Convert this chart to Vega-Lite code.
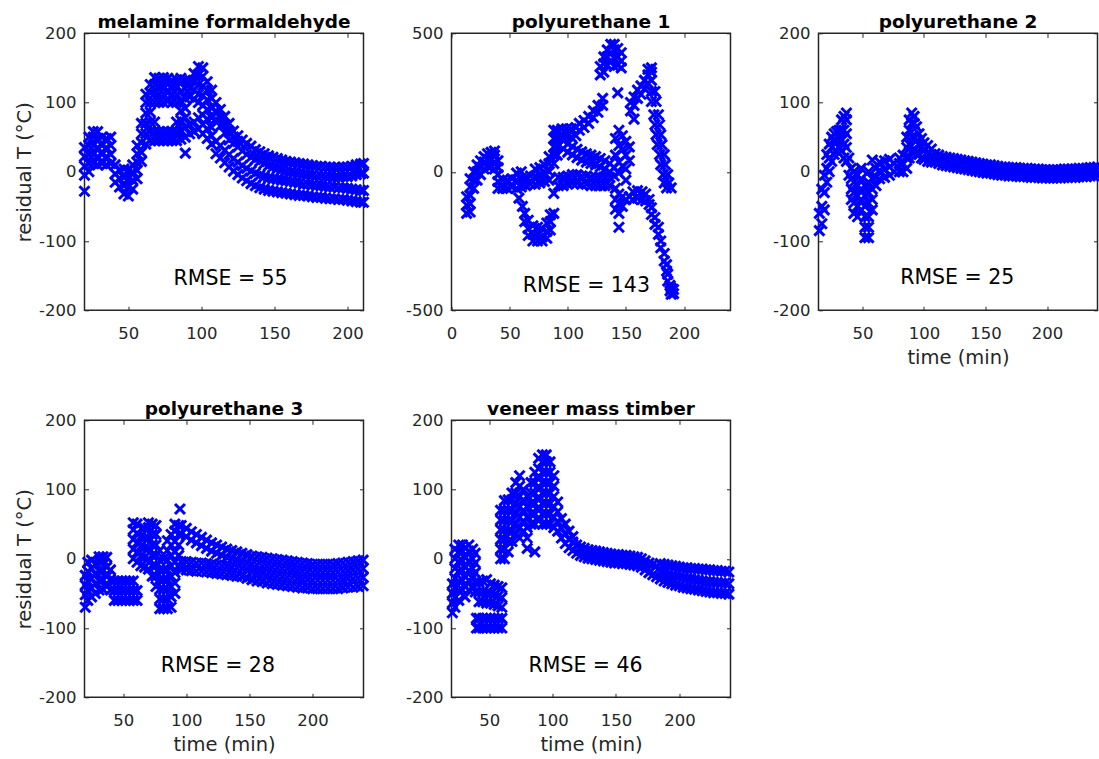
{
"$schema": "https://vega.github.io/schema/vega-lite/v6.json",
"background": "white",
"padding": {"left": 12.5, "top": 11.3, "right": 0, "bottom": 0},
"config": {
 "font": "DejaVu Sans",
 "view": {"stroke": "#262626", "strokeWidth": 1.5},
 "axis": {"domain": false, "grid": false, "tickColor": "#262626", "tickSize": -4, "tickWidth": 1, "labelColor": "#262626", "labelFontSize": 16.5, "labelFont": "DejaVu Sans", "labelFlush": false, "labelOverlap": false, "labelExpr": "datum.value < 0 ? '-' + (-datum.value) : '' + datum.value", "titleFont": "DejaVu Sans", "titleFontWeight": "normal", "titleFontSize": 19.5, "titleColor": "#262626"},
 "axisX": {"labelPadding": 19.3, "titlePadding": 6.7},
 "axisY": {"labelPadding": 12.5, "titlePadding": 4.5},
 "title": {"font": "DejaVu Sans", "fontSize": 18.5, "fontWeight": "bold", "color": "#000000", "frame": "group", "anchor": "middle", "baseline": "alphabetic", "offset": -6}
},
"datasets": {
"lbl": [
 {"p":"a","t":120,"r":-155,"txt":"RMSE = 55"},
 {"p":"b","t":116,"r":-413,"txt":"RMSE = 143"},
 {"p":"c","t":127,"r":-154,"txt":"RMSE = 25"},
 {"p":"d","t":125,"r":-155,"txt":"RMSE = 28"},
 {"p":"e","t":126,"r":-155,"txt":"RMSE = 46"}
],
"pts": [
{"p":"a","t":20,"r":-28},{"p":"a","t":20,"r":-5},{"p":"a","t":20,"r":8},{"p":"a","t":20,"r":22},{"p":"a","t":20,"r":35},
{"p":"a","t":23,"r":0},{"p":"a","t":23,"r":12},{"p":"a","t":23,"r":25},{"p":"a","t":23,"r":38},{"p":"a","t":23,"r":50},
{"p":"a","t":26,"r":12},{"p":"a","t":26,"r":25},{"p":"a","t":26,"r":38},{"p":"a","t":26,"r":50},{"p":"a","t":26,"r":58},
{"p":"a","t":29,"r":10},{"p":"a","t":29,"r":22},{"p":"a","t":29,"r":35},{"p":"a","t":29,"r":48},{"p":"a","t":29,"r":58},
{"p":"a","t":32,"r":12},{"p":"a","t":32,"r":25},{"p":"a","t":32,"r":38},{"p":"a","t":32,"r":50},
{"p":"a","t":35,"r":10},{"p":"a","t":35,"r":22},{"p":"a","t":35,"r":35},{"p":"a","t":35,"r":48},
{"p":"a","t":38,"r":12},{"p":"a","t":38,"r":25},{"p":"a","t":38,"r":38},{"p":"a","t":38,"r":50},
{"p":"a","t":41,"r":-15},{"p":"a","t":41,"r":-3},{"p":"a","t":41,"r":10},
{"p":"a","t":44,"r":-22},{"p":"a","t":44,"r":-10},{"p":"a","t":44,"r":2},
{"p":"a","t":47,"r":-32},{"p":"a","t":47,"r":-20},{"p":"a","t":47,"r":-8},{"p":"a","t":47,"r":4},
{"p":"a","t":50,"r":-35},{"p":"a","t":50,"r":-22},{"p":"a","t":50,"r":-10},{"p":"a","t":50,"r":2},
{"p":"a","t":53,"r":-25},{"p":"a","t":53,"r":-12},{"p":"a","t":53,"r":0},{"p":"a","t":53,"r":10},
{"p":"a","t":56,"r":-10},{"p":"a","t":56,"r":2},{"p":"a","t":56,"r":14},{"p":"a","t":56,"r":26},{"p":"a","t":56,"r":38},
{"p":"a","t":59,"r":15},{"p":"a","t":59,"r":28},{"p":"a","t":59,"r":42},{"p":"a","t":59,"r":55},{"p":"a","t":59,"r":70},
{"p":"a","t":62,"r":40},{"p":"a","t":62,"r":55},{"p":"a","t":62,"r":70},{"p":"a","t":62,"r":85},{"p":"a","t":62,"r":100},{"p":"a","t":62,"r":112},
{"p":"a","t":65,"r":45},{"p":"a","t":65,"r":58},{"p":"a","t":65,"r":72},{"p":"a","t":65,"r":86},{"p":"a","t":65,"r":100},{"p":"a","t":65,"r":114},{"p":"a","t":65,"r":126},
{"p":"a","t":68,"r":45},{"p":"a","t":68,"r":58},{"p":"a","t":68,"r":72},{"p":"a","t":68,"r":100},{"p":"a","t":68,"r":113},{"p":"a","t":68,"r":126},{"p":"a","t":68,"r":136},
{"p":"a","t":71,"r":45},{"p":"a","t":71,"r":58},{"p":"a","t":71,"r":100},{"p":"a","t":71,"r":112},{"p":"a","t":71,"r":124},{"p":"a","t":71,"r":135},
{"p":"a","t":74,"r":45},{"p":"a","t":74,"r":58},{"p":"a","t":74,"r":100},{"p":"a","t":74,"r":112},{"p":"a","t":74,"r":124},{"p":"a","t":74,"r":136},
{"p":"a","t":77,"r":45},{"p":"a","t":77,"r":58},{"p":"a","t":77,"r":102},{"p":"a","t":77,"r":114},{"p":"a","t":77,"r":126},{"p":"a","t":77,"r":135},
{"p":"a","t":80,"r":45},{"p":"a","t":80,"r":58},{"p":"a","t":80,"r":100},{"p":"a","t":80,"r":112},{"p":"a","t":80,"r":124},{"p":"a","t":80,"r":132},
{"p":"a","t":83,"r":45},{"p":"a","t":83,"r":58},{"p":"a","t":83,"r":72},{"p":"a","t":83,"r":100},{"p":"a","t":83,"r":112},{"p":"a","t":83,"r":124},{"p":"a","t":83,"r":133},
{"p":"a","t":86,"r":47},{"p":"a","t":86,"r":60},{"p":"a","t":86,"r":74},{"p":"a","t":86,"r":88},{"p":"a","t":86,"r":102},{"p":"a","t":86,"r":116},{"p":"a","t":86,"r":128},{"p":"a","t":86,"r":135},
{"p":"a","t":89,"r":27},{"p":"a","t":89,"r":50},{"p":"a","t":89,"r":64},{"p":"a","t":89,"r":78},{"p":"a","t":89,"r":92},{"p":"a","t":89,"r":106},{"p":"a","t":89,"r":120},{"p":"a","t":89,"r":132},
{"p":"a","t":92,"r":55},{"p":"a","t":92,"r":68},{"p":"a","t":92,"r":108},{"p":"a","t":92,"r":120},{"p":"a","t":92,"r":132},
{"p":"a","t":95,"r":58},{"p":"a","t":95,"r":72},{"p":"a","t":95,"r":105},{"p":"a","t":95,"r":118},{"p":"a","t":95,"r":130},{"p":"a","t":95,"r":142},
{"p":"a","t":98,"r":62},{"p":"a","t":98,"r":78},{"p":"a","t":98,"r":100},{"p":"a","t":98,"r":112},{"p":"a","t":98,"r":126},{"p":"a","t":98,"r":140},{"p":"a","t":98,"r":152},
{"p":"a","t":101,"r":55},{"p":"a","t":101,"r":68},{"p":"a","t":101,"r":82},{"p":"a","t":101,"r":96},{"p":"a","t":101,"r":110},{"p":"a","t":101,"r":124},{"p":"a","t":101,"r":138},{"p":"a","t":101,"r":150},
{"p":"a","t":104,"r":48},{"p":"a","t":104,"r":62},{"p":"a","t":104,"r":76},{"p":"a","t":104,"r":90},{"p":"a","t":104,"r":104},{"p":"a","t":104,"r":118},{"p":"a","t":104,"r":130},
{"p":"a","t":107,"r":40},{"p":"a","t":107,"r":52},{"p":"a","t":107,"r":64},{"p":"a","t":107,"r":78},{"p":"a","t":107,"r":92},{"p":"a","t":107,"r":106},{"p":"a","t":107,"r":118},
{"p":"a","t":110,"r":76},{"p":"a","t":110,"r":88},{"p":"a","t":110,"r":100},{"p":"a","t":110,"r":26},{"p":"a","t":110,"r":44},
{"p":"a","t":113,"r":66},{"p":"a","t":113,"r":78},{"p":"a","t":113,"r":90},{"p":"a","t":113,"r":20},{"p":"a","t":113,"r":38},
{"p":"a","t":116,"r":56},{"p":"a","t":116,"r":68},{"p":"a","t":116,"r":80},{"p":"a","t":116,"r":13},{"p":"a","t":116,"r":31},
{"p":"a","t":119,"r":46},{"p":"a","t":119,"r":58},{"p":"a","t":119,"r":70},{"p":"a","t":119,"r":7},{"p":"a","t":119,"r":25},
{"p":"a","t":122,"r":41},{"p":"a","t":122,"r":50},{"p":"a","t":122,"r":59},{"p":"a","t":122,"r":1},{"p":"a","t":122,"r":19},
{"p":"a","t":125,"r":36},{"p":"a","t":125,"r":44},{"p":"a","t":125,"r":52},{"p":"a","t":125,"r":-4},{"p":"a","t":125,"r":14},
{"p":"a","t":128,"r":30},{"p":"a","t":128,"r":46},{"p":"a","t":128,"r":-9},{"p":"a","t":128,"r":9},
{"p":"a","t":131,"r":25},{"p":"a","t":131,"r":41},{"p":"a","t":131,"r":-13},{"p":"a","t":131,"r":5},
{"p":"a","t":134,"r":21},{"p":"a","t":134,"r":37},{"p":"a","t":134,"r":-17},{"p":"a","t":134,"r":1},
{"p":"a","t":137,"r":18},{"p":"a","t":137,"r":32},{"p":"a","t":137,"r":-20},{"p":"a","t":137,"r":-2},
{"p":"a","t":140,"r":15},{"p":"a","t":140,"r":29},{"p":"a","t":140,"r":-23},{"p":"a","t":140,"r":-5},
{"p":"a","t":143,"r":12},{"p":"a","t":143,"r":26},{"p":"a","t":143,"r":-25},{"p":"a","t":143,"r":-7},
{"p":"a","t":146,"r":9},{"p":"a","t":146,"r":23},{"p":"a","t":146,"r":-27},{"p":"a","t":146,"r":-9},
{"p":"a","t":149,"r":7},{"p":"a","t":149,"r":21},{"p":"a","t":149,"r":-28},{"p":"a","t":149,"r":-10},
{"p":"a","t":152,"r":5},{"p":"a","t":152,"r":19},{"p":"a","t":152,"r":-29},{"p":"a","t":152,"r":-11},
{"p":"a","t":155,"r":3},{"p":"a","t":155,"r":17},{"p":"a","t":155,"r":-30},{"p":"a","t":155,"r":-12},
{"p":"a","t":158,"r":1},{"p":"a","t":158,"r":15},{"p":"a","t":158,"r":-31},{"p":"a","t":158,"r":-13},
{"p":"a","t":161,"r":0},{"p":"a","t":161,"r":14},{"p":"a","t":161,"r":-32},{"p":"a","t":161,"r":-14},
{"p":"a","t":164,"r":-1},{"p":"a","t":164,"r":13},{"p":"a","t":164,"r":-33},{"p":"a","t":164,"r":-15},
{"p":"a","t":167,"r":-2},{"p":"a","t":167,"r":12},{"p":"a","t":167,"r":-34},{"p":"a","t":167,"r":-16},
{"p":"a","t":170,"r":-3},{"p":"a","t":170,"r":11},{"p":"a","t":170,"r":-34},{"p":"a","t":170,"r":-18},
{"p":"a","t":173,"r":-4},{"p":"a","t":173,"r":10},{"p":"a","t":173,"r":-35},{"p":"a","t":173,"r":-18},
{"p":"a","t":176,"r":-5},{"p":"a","t":176,"r":9},{"p":"a","t":176,"r":-36},{"p":"a","t":176,"r":-19},
{"p":"a","t":179,"r":-6},{"p":"a","t":179,"r":8},{"p":"a","t":179,"r":-37},{"p":"a","t":179,"r":-20},
{"p":"a","t":182,"r":-6},{"p":"a","t":182,"r":8},{"p":"a","t":182,"r":-37},{"p":"a","t":182,"r":-20},
{"p":"a","t":185,"r":-7},{"p":"a","t":185,"r":7},{"p":"a","t":185,"r":-38},{"p":"a","t":185,"r":-21},
{"p":"a","t":188,"r":-7},{"p":"a","t":188,"r":7},{"p":"a","t":188,"r":-39},{"p":"a","t":188,"r":-22},
{"p":"a","t":191,"r":-8},{"p":"a","t":191,"r":6},{"p":"a","t":191,"r":-39},{"p":"a","t":191,"r":-22},
{"p":"a","t":194,"r":-8},{"p":"a","t":194,"r":6},{"p":"a","t":194,"r":-40},{"p":"a","t":194,"r":-23},
{"p":"a","t":197,"r":-7},{"p":"a","t":197,"r":7},{"p":"a","t":197,"r":-40},{"p":"a","t":197,"r":-23},
{"p":"a","t":200,"r":-7},{"p":"a","t":200,"r":7},{"p":"a","t":200,"r":-41},{"p":"a","t":200,"r":-24},
{"p":"a","t":203,"r":-6},{"p":"a","t":203,"r":8},{"p":"a","t":203,"r":-42},{"p":"a","t":203,"r":-25},
{"p":"a","t":206,"r":-4},{"p":"a","t":206,"r":10},{"p":"a","t":206,"r":-43},{"p":"a","t":206,"r":-26},
{"p":"a","t":209,"r":-3},{"p":"a","t":209,"r":11},{"p":"a","t":209,"r":-44},{"p":"a","t":209,"r":-27},
{"p":"a","t":211,"r":-2},{"p":"a","t":211,"r":12},{"p":"a","t":211,"r":-44},{"p":"a","t":211,"r":-27},

{"p":"b","t":13,"r":-150},{"p":"b","t":13,"r":-120},{"p":"b","t":13,"r":-90},
{"p":"b","t":16,"r":-145},{"p":"b","t":16,"r":-115},{"p":"b","t":16,"r":-85},{"p":"b","t":16,"r":-55},{"p":"b","t":16,"r":-25},
{"p":"b","t":19,"r":-60},{"p":"b","t":19,"r":-30},{"p":"b","t":19,"r":0},
{"p":"b","t":22,"r":-30},{"p":"b","t":22,"r":0},{"p":"b","t":22,"r":25},
{"p":"b","t":25,"r":-10},{"p":"b","t":25,"r":15},{"p":"b","t":25,"r":40},
{"p":"b","t":28,"r":10},{"p":"b","t":28,"r":35},{"p":"b","t":28,"r":55},
{"p":"b","t":31,"r":20},{"p":"b","t":31,"r":45},{"p":"b","t":31,"r":65},
{"p":"b","t":34,"r":20},{"p":"b","t":34,"r":45},{"p":"b","t":34,"r":70},
{"p":"b","t":37,"r":10},{"p":"b","t":37,"r":35},{"p":"b","t":37,"r":60},{"p":"b","t":37,"r":75},
{"p":"b","t":40,"r":-60},{"p":"b","t":40,"r":-35},{"p":"b","t":40,"r":-10},{"p":"b","t":40,"r":15},{"p":"b","t":40,"r":40},
{"p":"b","t":44,"r":-60},{"p":"b","t":44,"r":-30},
{"p":"b","t":48,"r":-60},{"p":"b","t":48,"r":-30},
{"p":"b","t":52,"r":-55},{"p":"b","t":52,"r":-25},
{"p":"b","t":56,"r":-60},{"p":"b","t":56,"r":-30},{"p":"b","t":56,"r":-5},
{"p":"b","t":60,"r":-55},{"p":"b","t":60,"r":-25},{"p":"b","t":60,"r":0},
{"p":"b","t":64,"r":-50},{"p":"b","t":64,"r":-20},
{"p":"b","t":68,"r":-45},{"p":"b","t":68,"r":-15},
{"p":"b","t":72,"r":-45},{"p":"b","t":72,"r":-15},{"p":"b","t":72,"r":10},
{"p":"b","t":76,"r":-40},{"p":"b","t":76,"r":-10},{"p":"b","t":76,"r":15},
{"p":"b","t":80,"r":-35},{"p":"b","t":80,"r":-5},{"p":"b","t":80,"r":25},
{"p":"b","t":84,"r":-30},{"p":"b","t":84,"r":0},{"p":"b","t":84,"r":30},{"p":"b","t":84,"r":55},
{"p":"b","t":58,"r":-95},{"p":"b","t":61,"r":-125},
{"p":"b","t":63,"r":-150},{"p":"b","t":63,"r":-180},
{"p":"b","t":66,"r":-175},{"p":"b","t":66,"r":-205},{"p":"b","t":66,"r":-230},
{"p":"b","t":70,"r":-195},{"p":"b","t":70,"r":-225},{"p":"b","t":70,"r":-250},
{"p":"b","t":74,"r":-200},{"p":"b","t":74,"r":-230},{"p":"b","t":74,"r":-250},
{"p":"b","t":78,"r":-205},{"p":"b","t":78,"r":-235},{"p":"b","t":78,"r":-250},
{"p":"b","t":82,"r":-185},{"p":"b","t":82,"r":-215},{"p":"b","t":82,"r":-240},
{"p":"b","t":85,"r":-155},{"p":"b","t":85,"r":-180},{"p":"b","t":85,"r":-210},
{"p":"b","t":88,"r":-150},{"p":"b","t":88,"r":-78},{"p":"b","t":88,"r":30},{"p":"b","t":88,"r":60},{"p":"b","t":88,"r":90},{"p":"b","t":88,"r":120},{"p":"b","t":88,"r":150},
{"p":"b","t":91,"r":60},{"p":"b","t":91,"r":90},{"p":"b","t":91,"r":120},{"p":"b","t":91,"r":150},
{"p":"b","t":95,"r":125},{"p":"b","t":95,"r":155},
{"p":"b","t":99,"r":125},{"p":"b","t":99,"r":155},
{"p":"b","t":103,"r":125},{"p":"b","t":103,"r":155},
{"p":"b","t":107,"r":130},{"p":"b","t":107,"r":160},
{"p":"b","t":110,"r":150},{"p":"b","t":110,"r":175},
{"p":"b","t":114,"r":160},{"p":"b","t":114,"r":185},
{"p":"b","t":118,"r":175},{"p":"b","t":118,"r":200},
{"p":"b","t":122,"r":195},{"p":"b","t":122,"r":220},
{"p":"b","t":126,"r":215},{"p":"b","t":126,"r":240},
{"p":"b","t":130,"r":240},{"p":"b","t":130,"r":265},
{"p":"b","t":128,"r":350},{"p":"b","t":128,"r":380},
{"p":"b","t":131,"r":360},{"p":"b","t":131,"r":390},{"p":"b","t":131,"r":415},
{"p":"b","t":134,"r":385},{"p":"b","t":134,"r":415},{"p":"b","t":134,"r":440},
{"p":"b","t":137,"r":400},{"p":"b","t":137,"r":430},{"p":"b","t":137,"r":460},
{"p":"b","t":140,"r":380},{"p":"b","t":140,"r":410},{"p":"b","t":140,"r":440},{"p":"b","t":140,"r":460},
{"p":"b","t":143,"r":285},{"p":"b","t":143,"r":385},{"p":"b","t":143,"r":415},{"p":"b","t":143,"r":445},
{"p":"b","t":146,"r":375},{"p":"b","t":146,"r":400},{"p":"b","t":146,"r":430},
{"p":"b","t":92,"r":95},{"p":"b","t":92,"r":125},
{"p":"b","t":96,"r":83},{"p":"b","t":96,"r":113},
{"p":"b","t":100,"r":71},{"p":"b","t":100,"r":101},
{"p":"b","t":104,"r":61},{"p":"b","t":104,"r":91},
{"p":"b","t":108,"r":51},{"p":"b","t":108,"r":81},
{"p":"b","t":112,"r":42},{"p":"b","t":112,"r":72},
{"p":"b","t":116,"r":35},{"p":"b","t":116,"r":65},
{"p":"b","t":120,"r":30},{"p":"b","t":120,"r":60},
{"p":"b","t":124,"r":25},{"p":"b","t":124,"r":55},
{"p":"b","t":128,"r":18},{"p":"b","t":128,"r":48},
{"p":"b","t":132,"r":10},{"p":"b","t":132,"r":40},
{"p":"b","t":136,"r":0},{"p":"b","t":136,"r":30},
{"p":"b","t":140,"r":-15},{"p":"b","t":140,"r":15},
{"p":"b","t":92,"r":-50},{"p":"b","t":92,"r":-20},
{"p":"b","t":96,"r":-50},{"p":"b","t":96,"r":-20},
{"p":"b","t":100,"r":-45},{"p":"b","t":100,"r":-15},
{"p":"b","t":104,"r":-40},{"p":"b","t":104,"r":-10},
{"p":"b","t":108,"r":-40},{"p":"b","t":108,"r":-10},
{"p":"b","t":112,"r":-45},{"p":"b","t":112,"r":-15},
{"p":"b","t":116,"r":-45},{"p":"b","t":116,"r":-15},
{"p":"b","t":120,"r":-50},{"p":"b","t":120,"r":-20},
{"p":"b","t":124,"r":-50},{"p":"b","t":124,"r":-20},
{"p":"b","t":128,"r":-50},{"p":"b","t":128,"r":-20},
{"p":"b","t":132,"r":-50},{"p":"b","t":132,"r":-20},
{"p":"b","t":136,"r":-50},{"p":"b","t":136,"r":-20},
{"p":"b","t":141,"r":120},{"p":"b","t":141,"r":60},{"p":"b","t":141,"r":-60},{"p":"b","t":141,"r":-100},{"p":"b","t":141,"r":-135},
{"p":"b","t":144,"r":150},{"p":"b","t":144,"r":95},{"p":"b","t":144,"r":35},{"p":"b","t":144,"r":-5},{"p":"b","t":144,"r":-80},{"p":"b","t":144,"r":-115},{"p":"b","t":144,"r":-150},{"p":"b","t":144,"r":-200},
{"p":"b","t":147,"r":130},{"p":"b","t":147,"r":80},{"p":"b","t":147,"r":20},{"p":"b","t":147,"r":-90},{"p":"b","t":147,"r":-125},
{"p":"b","t":150,"r":110},{"p":"b","t":150,"r":60},{"p":"b","t":150,"r":10},{"p":"b","t":150,"r":-30},{"p":"b","t":150,"r":-100},
{"p":"b","t":153,"r":90},{"p":"b","t":153,"r":40},{"p":"b","t":153,"r":-90},
{"p":"b","t":157,"r":190},
{"p":"b","t":156,"r":-100},{"p":"b","t":156,"r":-72},
{"p":"b","t":160,"r":-95},{"p":"b","t":160,"r":-68},
{"p":"b","t":164,"r":-100},{"p":"b","t":164,"r":-72},
{"p":"b","t":167,"r":-105},{"p":"b","t":167,"r":-80},
{"p":"b","t":170,"r":-118},{"p":"b","t":170,"r":-100},
{"p":"b","t":172,"r":-154},{"p":"b","t":172,"r":-130},
{"p":"b","t":175,"r":-190},{"p":"b","t":175,"r":-165},
{"p":"b","t":178,"r":-226},{"p":"b","t":178,"r":-200},
{"p":"b","t":180,"r":-274},{"p":"b","t":180,"r":-250},
{"p":"b","t":183,"r":-322},{"p":"b","t":183,"r":-295},
{"p":"b","t":185,"r":-358},{"p":"b","t":185,"r":-335},
{"p":"b","t":186,"r":-394},{"p":"b","t":186,"r":-370},
{"p":"b","t":188,"r":-430},{"p":"b","t":188,"r":-410},
{"p":"b","t":189,"r":-442},{"p":"b","t":189,"r":-420},
{"p":"b","t":191,"r":-440},{"p":"b","t":191,"r":-425},
{"p":"b","t":154,"r":220},{"p":"b","t":154,"r":250},
{"p":"b","t":157,"r":240},{"p":"b","t":157,"r":270},
{"p":"b","t":160,"r":265},{"p":"b","t":160,"r":295},
{"p":"b","t":163,"r":280},{"p":"b","t":163,"r":310},
{"p":"b","t":166,"r":300},{"p":"b","t":166,"r":330},
{"p":"b","t":169,"r":320},{"p":"b","t":169,"r":350},{"p":"b","t":169,"r":370},
{"p":"b","t":172,"r":330},{"p":"b","t":172,"r":360},{"p":"b","t":172,"r":375},
{"p":"b","t":172,"r":290},{"p":"b","t":175,"r":290},
{"p":"b","t":172,"r":254},{"p":"b","t":176,"r":254},
{"p":"b","t":174,"r":206},{"p":"b","t":178,"r":206},
{"p":"b","t":175,"r":170},{"p":"b","t":179,"r":170},
{"p":"b","t":176,"r":134},{"p":"b","t":180,"r":134},
{"p":"b","t":177,"r":98},{"p":"b","t":181,"r":98},
{"p":"b","t":179,"r":62},{"p":"b","t":183,"r":62},
{"p":"b","t":180,"r":26},{"p":"b","t":184,"r":26},
{"p":"b","t":182,"r":-10},{"p":"b","t":186,"r":-10},
{"p":"b","t":183,"r":-40},{"p":"b","t":187,"r":-40},
{"p":"b","t":185,"r":-58},{"p":"b","t":189,"r":-58},

{"p":"c","t":15,"r":-85},{"p":"c","t":15,"r":-60},
{"p":"c","t":17,"r":-75},{"p":"c","t":17,"r":-50},{"p":"c","t":17,"r":-25},
{"p":"c","t":19,"r":-55},{"p":"c","t":19,"r":-30},{"p":"c","t":19,"r":-5},
{"p":"c","t":21,"r":-15},{"p":"c","t":21,"r":5},{"p":"c","t":21,"r":25},
{"p":"c","t":23,"r":0},{"p":"c","t":23,"r":20},{"p":"c","t":23,"r":40},
{"p":"c","t":25,"r":15},{"p":"c","t":25,"r":35},{"p":"c","t":25,"r":50},
{"p":"c","t":27,"r":25},{"p":"c","t":27,"r":45},{"p":"c","t":27,"r":55},
{"p":"c","t":29,"r":30},{"p":"c","t":29,"r":45},{"p":"c","t":29,"r":58},
{"p":"c","t":31,"r":35},{"p":"c","t":31,"r":50},{"p":"c","t":31,"r":60},
{"p":"c","t":33,"r":30},{"p":"c","t":33,"r":45},{"p":"c","t":33,"r":60},{"p":"c","t":33,"r":75},
{"p":"c","t":35,"r":20},{"p":"c","t":35,"r":40},{"p":"c","t":35,"r":60},{"p":"c","t":35,"r":80},
{"p":"c","t":37,"r":15},{"p":"c","t":37,"r":35},{"p":"c","t":37,"r":55},{"p":"c","t":37,"r":75},{"p":"c","t":37,"r":85},
{"p":"c","t":39,"r":-5},{"p":"c","t":39,"r":20},
{"p":"c","t":41,"r":-40},{"p":"c","t":41,"r":-25},{"p":"c","t":41,"r":-10},{"p":"c","t":41,"r":5},
{"p":"c","t":43,"r":-60},{"p":"c","t":43,"r":-45},{"p":"c","t":43,"r":-30},{"p":"c","t":43,"r":-15},{"p":"c","t":43,"r":0},
{"p":"c","t":46,"r":-65},{"p":"c","t":46,"r":-50},{"p":"c","t":46,"r":-35},{"p":"c","t":46,"r":-20},{"p":"c","t":46,"r":-5},
{"p":"c","t":49,"r":-55},{"p":"c","t":49,"r":-40},{"p":"c","t":49,"r":-25},{"p":"c","t":49,"r":-10},{"p":"c","t":49,"r":5},
{"p":"c","t":52,"r":-95},{"p":"c","t":52,"r":-80},{"p":"c","t":52,"r":-65},{"p":"c","t":52,"r":-50},{"p":"c","t":52,"r":-35},{"p":"c","t":52,"r":-20},
{"p":"c","t":55,"r":-95},{"p":"c","t":55,"r":-80},{"p":"c","t":55,"r":-65},{"p":"c","t":55,"r":-45},{"p":"c","t":55,"r":-30},{"p":"c","t":55,"r":-15},{"p":"c","t":55,"r":0},
{"p":"c","t":58,"r":-55},{"p":"c","t":58,"r":-40},{"p":"c","t":58,"r":-25},{"p":"c","t":58,"r":-10},{"p":"c","t":58,"r":17},
{"p":"c","t":61,"r":-20},{"p":"c","t":61,"r":-8},{"p":"c","t":61,"r":5},
{"p":"c","t":64,"r":-10},{"p":"c","t":64,"r":2},{"p":"c","t":64,"r":14},
{"p":"c","t":68,"r":-8},{"p":"c","t":68,"r":4},{"p":"c","t":68,"r":16},
{"p":"c","t":72,"r":-5},{"p":"c","t":72,"r":7},{"p":"c","t":72,"r":18},
{"p":"c","t":76,"r":0},{"p":"c","t":76,"r":12},
{"p":"c","t":80,"r":0},{"p":"c","t":80,"r":12},{"p":"c","t":80,"r":20},
{"p":"c","t":83,"r":0},{"p":"c","t":83,"r":12},{"p":"c","t":83,"r":24},
{"p":"c","t":86,"r":5},{"p":"c","t":86,"r":20},{"p":"c","t":86,"r":35},{"p":"c","t":86,"r":50},
{"p":"c","t":88,"r":20},{"p":"c","t":88,"r":40},{"p":"c","t":88,"r":60},{"p":"c","t":88,"r":75},
{"p":"c","t":90,"r":30},{"p":"c","t":90,"r":50},{"p":"c","t":90,"r":70},{"p":"c","t":90,"r":85},
{"p":"c","t":92,"r":30},{"p":"c","t":92,"r":50},{"p":"c","t":92,"r":70},{"p":"c","t":92,"r":80},
{"p":"c","t":94,"r":25},{"p":"c","t":94,"r":45},{"p":"c","t":94,"r":65},
{"p":"c","t":96,"r":25},{"p":"c","t":96,"r":40},{"p":"c","t":96,"r":55},
{"p":"c","t":98,"r":20},{"p":"c","t":98,"r":35},{"p":"c","t":98,"r":48},
{"p":"c","t":100,"r":18},{"p":"c","t":100,"r":30},{"p":"c","t":100,"r":42},
{"p":"c","t":103,"r":15},{"p":"c","t":103,"r":27},{"p":"c","t":103,"r":38},
{"p":"c","t":106,"r":14},{"p":"c","t":106,"r":25},{"p":"c","t":106,"r":33},
{"p":"c","t":109,"r":14},{"p":"c","t":109,"r":26},
{"p":"c","t":112,"r":12},{"p":"c","t":112,"r":24},
{"p":"c","t":115,"r":10},{"p":"c","t":115,"r":22},
{"p":"c","t":118,"r":9},{"p":"c","t":118,"r":21},
{"p":"c","t":121,"r":8},{"p":"c","t":121,"r":20},
{"p":"c","t":124,"r":7},{"p":"c","t":124,"r":19},
{"p":"c","t":127,"r":6},{"p":"c","t":127,"r":18},
{"p":"c","t":130,"r":5},{"p":"c","t":130,"r":17},
{"p":"c","t":133,"r":4},{"p":"c","t":133,"r":16},
{"p":"c","t":136,"r":3},{"p":"c","t":136,"r":15},
{"p":"c","t":139,"r":2},{"p":"c","t":139,"r":14},
{"p":"c","t":142,"r":1},{"p":"c","t":142,"r":13},
{"p":"c","t":145,"r":0},{"p":"c","t":145,"r":12},
{"p":"c","t":148,"r":-1},{"p":"c","t":148,"r":11},
{"p":"c","t":151,"r":-2},{"p":"c","t":151,"r":10},
{"p":"c","t":154,"r":-2},{"p":"c","t":154,"r":10},
{"p":"c","t":157,"r":-3},{"p":"c","t":157,"r":9},
{"p":"c","t":160,"r":-4},{"p":"c","t":160,"r":8},
{"p":"c","t":163,"r":-5},{"p":"c","t":163,"r":7},
{"p":"c","t":166,"r":-5},{"p":"c","t":166,"r":7},
{"p":"c","t":169,"r":-6},{"p":"c","t":169,"r":6},
{"p":"c","t":172,"r":-6},{"p":"c","t":172,"r":6},
{"p":"c","t":175,"r":-6},{"p":"c","t":175,"r":6},
{"p":"c","t":178,"r":-7},{"p":"c","t":178,"r":5},
{"p":"c","t":181,"r":-7},{"p":"c","t":181,"r":5},
{"p":"c","t":184,"r":-7},{"p":"c","t":184,"r":5},
{"p":"c","t":187,"r":-8},{"p":"c","t":187,"r":4},
{"p":"c","t":190,"r":-8},{"p":"c","t":190,"r":4},
{"p":"c","t":193,"r":-8},{"p":"c","t":193,"r":4},
{"p":"c","t":196,"r":-9},{"p":"c","t":196,"r":3},
{"p":"c","t":199,"r":-9},{"p":"c","t":199,"r":3},
{"p":"c","t":202,"r":-9},{"p":"c","t":202,"r":3},
{"p":"c","t":205,"r":-9},{"p":"c","t":205,"r":3},
{"p":"c","t":208,"r":-9},{"p":"c","t":208,"r":3},
{"p":"c","t":211,"r":-9},{"p":"c","t":211,"r":3},
{"p":"c","t":214,"r":-8},{"p":"c","t":214,"r":4},
{"p":"c","t":217,"r":-8},{"p":"c","t":217,"r":4},
{"p":"c","t":220,"r":-8},{"p":"c","t":220,"r":4},
{"p":"c","t":223,"r":-8},{"p":"c","t":223,"r":4},
{"p":"c","t":226,"r":-7},{"p":"c","t":226,"r":5},
{"p":"c","t":229,"r":-7},{"p":"c","t":229,"r":5},
{"p":"c","t":232,"r":-7},{"p":"c","t":232,"r":5},
{"p":"c","t":235,"r":-6},{"p":"c","t":235,"r":6},
{"p":"c","t":238,"r":-6},{"p":"c","t":238,"r":6},
{"p":"c","t":241,"r":-5},{"p":"c","t":241,"r":7},

{"p":"d","t":20,"r":-70},{"p":"d","t":20,"r":-52},{"p":"d","t":20,"r":-38},{"p":"d","t":20,"r":-24},
{"p":"d","t":22,"r":-60},{"p":"d","t":22,"r":-46},{"p":"d","t":22,"r":-32},{"p":"d","t":22,"r":-18},{"p":"d","t":22,"r":-5},
{"p":"d","t":25,"r":-55},{"p":"d","t":25,"r":-42},{"p":"d","t":25,"r":-28},{"p":"d","t":25,"r":-14},{"p":"d","t":25,"r":-2},
{"p":"d","t":28,"r":-50},{"p":"d","t":28,"r":-36},{"p":"d","t":28,"r":-22},{"p":"d","t":28,"r":-8},
{"p":"d","t":31,"r":-45},{"p":"d","t":31,"r":-32},{"p":"d","t":31,"r":-18},{"p":"d","t":31,"r":-4},{"p":"d","t":31,"r":3},
{"p":"d","t":34,"r":-44},{"p":"d","t":34,"r":-30},{"p":"d","t":34,"r":-16},{"p":"d","t":34,"r":-2},{"p":"d","t":34,"r":3},
{"p":"d","t":37,"r":-40},{"p":"d","t":37,"r":-26},{"p":"d","t":37,"r":-12},{"p":"d","t":37,"r":2},
{"p":"d","t":40,"r":-45},{"p":"d","t":40,"r":-30},{"p":"d","t":40,"r":-16},
{"p":"d","t":43,"r":-60},{"p":"d","t":43,"r":-46},{"p":"d","t":43,"r":-32},
{"p":"d","t":46,"r":-60},{"p":"d","t":46,"r":-46},{"p":"d","t":46,"r":-32},
{"p":"d","t":49,"r":-60},{"p":"d","t":49,"r":-46},{"p":"d","t":49,"r":-32},
{"p":"d","t":52,"r":-60},{"p":"d","t":52,"r":-46},{"p":"d","t":52,"r":-32},
{"p":"d","t":55,"r":-60},{"p":"d","t":55,"r":-46},{"p":"d","t":55,"r":-32},
{"p":"d","t":58,"r":-60},{"p":"d","t":58,"r":-46},{"p":"d","t":58,"r":-32},{"p":"d","t":58,"r":0},{"p":"d","t":58,"r":14},{"p":"d","t":58,"r":28},{"p":"d","t":58,"r":42},{"p":"d","t":58,"r":52},
{"p":"d","t":61,"r":-60},{"p":"d","t":61,"r":-46},{"p":"d","t":61,"r":-5},{"p":"d","t":61,"r":9},{"p":"d","t":61,"r":23},{"p":"d","t":61,"r":37},{"p":"d","t":61,"r":50},
{"p":"d","t":64,"r":-10},{"p":"d","t":64,"r":4},{"p":"d","t":64,"r":18},{"p":"d","t":64,"r":32},
{"p":"d","t":67,"r":-12},{"p":"d","t":67,"r":2},{"p":"d","t":67,"r":16},{"p":"d","t":67,"r":30},{"p":"d","t":67,"r":44},
{"p":"d","t":70,"r":-15},{"p":"d","t":70,"r":0},{"p":"d","t":70,"r":15},{"p":"d","t":70,"r":30},{"p":"d","t":70,"r":45},{"p":"d","t":70,"r":52},
{"p":"d","t":73,"r":-25},{"p":"d","t":73,"r":-10},{"p":"d","t":73,"r":5},{"p":"d","t":73,"r":20},{"p":"d","t":73,"r":35},{"p":"d","t":73,"r":50},
{"p":"d","t":76,"r":-40},{"p":"d","t":76,"r":-25},{"p":"d","t":76,"r":-10},{"p":"d","t":76,"r":5},{"p":"d","t":76,"r":20},{"p":"d","t":76,"r":35},{"p":"d","t":76,"r":48},
{"p":"d","t":79,"r":-72},{"p":"d","t":79,"r":-58},{"p":"d","t":79,"r":-44},{"p":"d","t":79,"r":-30},{"p":"d","t":79,"r":-16},{"p":"d","t":79,"r":-2},{"p":"d","t":79,"r":12},
{"p":"d","t":82,"r":-72},{"p":"d","t":82,"r":-58},{"p":"d","t":82,"r":-44},{"p":"d","t":82,"r":-30},{"p":"d","t":82,"r":-16},{"p":"d","t":82,"r":0},
{"p":"d","t":85,"r":-72},{"p":"d","t":85,"r":-58},{"p":"d","t":85,"r":-44},{"p":"d","t":85,"r":-30},{"p":"d","t":85,"r":-16},{"p":"d","t":85,"r":-2},{"p":"d","t":85,"r":12},{"p":"d","t":85,"r":26},
{"p":"d","t":88,"r":-70},{"p":"d","t":88,"r":-55},{"p":"d","t":88,"r":-40},{"p":"d","t":88,"r":-25},{"p":"d","t":88,"r":-10},{"p":"d","t":88,"r":5},{"p":"d","t":88,"r":20},{"p":"d","t":88,"r":35},
{"p":"d","t":91,"r":-50},{"p":"d","t":91,"r":-35},{"p":"d","t":91,"r":-20},{"p":"d","t":91,"r":-5},{"p":"d","t":91,"r":10},{"p":"d","t":91,"r":25},{"p":"d","t":91,"r":40},{"p":"d","t":91,"r":50},
{"p":"d","t":94,"r":-10},{"p":"d","t":94,"r":5},{"p":"d","t":94,"r":20},{"p":"d","t":94,"r":35},{"p":"d","t":94,"r":48},{"p":"d","t":95,"r":72},
{"p":"d","t":96,"r":36},{"p":"d","t":96,"r":48},{"p":"d","t":96,"r":-16},{"p":"d","t":96,"r":-4},
{"p":"d","t":100,"r":32},{"p":"d","t":100,"r":44},{"p":"d","t":100,"r":-16},{"p":"d","t":100,"r":-4},
{"p":"d","t":104,"r":27},{"p":"d","t":104,"r":39},{"p":"d","t":104,"r":-17},{"p":"d","t":104,"r":-5},
{"p":"d","t":108,"r":23},{"p":"d","t":108,"r":35},{"p":"d","t":108,"r":-18},{"p":"d","t":108,"r":-6},
{"p":"d","t":112,"r":19},{"p":"d","t":112,"r":31},{"p":"d","t":112,"r":-18},{"p":"d","t":112,"r":-6},
{"p":"d","t":116,"r":15},{"p":"d","t":116,"r":27},{"p":"d","t":116,"r":-19},{"p":"d","t":116,"r":-7},
{"p":"d","t":120,"r":11},{"p":"d","t":120,"r":23},{"p":"d","t":120,"r":-20},{"p":"d","t":120,"r":-8},
{"p":"d","t":124,"r":8},{"p":"d","t":124,"r":20},{"p":"d","t":124,"r":-21},{"p":"d","t":124,"r":-9},
{"p":"d","t":128,"r":5},{"p":"d","t":128,"r":17},{"p":"d","t":128,"r":-22},{"p":"d","t":128,"r":-10},
{"p":"d","t":132,"r":2},{"p":"d","t":132,"r":14},{"p":"d","t":132,"r":-23},{"p":"d","t":132,"r":-11},
{"p":"d","t":136,"r":0},{"p":"d","t":136,"r":12},{"p":"d","t":136,"r":-24},{"p":"d","t":136,"r":-12},
{"p":"d","t":140,"r":-2},{"p":"d","t":140,"r":10},{"p":"d","t":140,"r":-25},{"p":"d","t":140,"r":-13},
{"p":"d","t":144,"r":-4},{"p":"d","t":144,"r":8},{"p":"d","t":144,"r":-26},{"p":"d","t":144,"r":-14},
{"p":"d","t":148,"r":-6},{"p":"d","t":148,"r":6},{"p":"d","t":148,"r":-28},{"p":"d","t":148,"r":-16},
{"p":"d","t":152,"r":-8},{"p":"d","t":152,"r":4},{"p":"d","t":152,"r":-30},{"p":"d","t":152,"r":-18},
{"p":"d","t":156,"r":-9},{"p":"d","t":156,"r":3},{"p":"d","t":156,"r":-32},{"p":"d","t":156,"r":-20},
{"p":"d","t":160,"r":-10},{"p":"d","t":160,"r":2},{"p":"d","t":160,"r":-33},{"p":"d","t":160,"r":-21},
{"p":"d","t":164,"r":-11},{"p":"d","t":164,"r":1},{"p":"d","t":164,"r":-35},{"p":"d","t":164,"r":-23},
{"p":"d","t":168,"r":-12},{"p":"d","t":168,"r":0},{"p":"d","t":168,"r":-36},{"p":"d","t":168,"r":-24},
{"p":"d","t":172,"r":-13},{"p":"d","t":172,"r":-1},{"p":"d","t":172,"r":-37},{"p":"d","t":172,"r":-25},
{"p":"d","t":176,"r":-14},{"p":"d","t":176,"r":-2},{"p":"d","t":176,"r":-38},{"p":"d","t":176,"r":-26},
{"p":"d","t":180,"r":-15},{"p":"d","t":180,"r":-3},{"p":"d","t":180,"r":-39},{"p":"d","t":180,"r":-27},
{"p":"d","t":184,"r":-16},{"p":"d","t":184,"r":-4},{"p":"d","t":184,"r":-40},{"p":"d","t":184,"r":-28},
{"p":"d","t":188,"r":-17},{"p":"d","t":188,"r":-5},{"p":"d","t":188,"r":-41},{"p":"d","t":188,"r":-29},
{"p":"d","t":192,"r":-18},{"p":"d","t":192,"r":-6},{"p":"d","t":192,"r":-42},{"p":"d","t":192,"r":-30},
{"p":"d","t":196,"r":-19},{"p":"d","t":196,"r":-7},{"p":"d","t":196,"r":-42},{"p":"d","t":196,"r":-30},
{"p":"d","t":200,"r":-20},{"p":"d","t":200,"r":-8},{"p":"d","t":200,"r":-43},{"p":"d","t":200,"r":-31},
{"p":"d","t":204,"r":-20},{"p":"d","t":204,"r":-8},{"p":"d","t":204,"r":-43},{"p":"d","t":204,"r":-31},
{"p":"d","t":208,"r":-20},{"p":"d","t":208,"r":-8},{"p":"d","t":208,"r":-43},{"p":"d","t":208,"r":-31},
{"p":"d","t":212,"r":-20},{"p":"d","t":212,"r":-8},{"p":"d","t":212,"r":-43},{"p":"d","t":212,"r":-31},
{"p":"d","t":216,"r":-20},{"p":"d","t":216,"r":-8},{"p":"d","t":216,"r":-43},{"p":"d","t":216,"r":-31},
{"p":"d","t":220,"r":-19},{"p":"d","t":220,"r":-7},{"p":"d","t":220,"r":-43},{"p":"d","t":220,"r":-31},
{"p":"d","t":224,"r":-18},{"p":"d","t":224,"r":-6},{"p":"d","t":224,"r":-42},{"p":"d","t":224,"r":-30},
{"p":"d","t":228,"r":-17},{"p":"d","t":228,"r":-5},{"p":"d","t":228,"r":-41},{"p":"d","t":228,"r":-29},
{"p":"d","t":232,"r":-16},{"p":"d","t":232,"r":-4},{"p":"d","t":232,"r":-41},{"p":"d","t":232,"r":-29},
{"p":"d","t":236,"r":-15},{"p":"d","t":236,"r":-3},{"p":"d","t":236,"r":-40},{"p":"d","t":236,"r":-28},
{"p":"d","t":240,"r":-14},{"p":"d","t":240,"r":-2},{"p":"d","t":240,"r":-39},{"p":"d","t":240,"r":-27},

{"p":"e","t":21,"r":-78},{"p":"e","t":21,"r":-64},{"p":"e","t":21,"r":-50},{"p":"e","t":21,"r":-36},
{"p":"e","t":23,"r":-70},{"p":"e","t":23,"r":-56},{"p":"e","t":23,"r":-42},{"p":"e","t":23,"r":-28},{"p":"e","t":23,"r":-14},{"p":"e","t":23,"r":0},{"p":"e","t":23,"r":14},
{"p":"e","t":26,"r":-60},{"p":"e","t":26,"r":-46},{"p":"e","t":26,"r":-32},{"p":"e","t":26,"r":-18},{"p":"e","t":26,"r":-4},{"p":"e","t":26,"r":10},{"p":"e","t":26,"r":20},
{"p":"e","t":29,"r":-45},{"p":"e","t":29,"r":-31},{"p":"e","t":29,"r":-17},{"p":"e","t":29,"r":-3},{"p":"e","t":29,"r":11},{"p":"e","t":29,"r":20},
{"p":"e","t":31,"r":-55},{"p":"e","t":31,"r":-40},{"p":"e","t":31,"r":-26},{"p":"e","t":31,"r":-12},{"p":"e","t":31,"r":2},{"p":"e","t":31,"r":16},
{"p":"e","t":34,"r":-45},{"p":"e","t":34,"r":-31},{"p":"e","t":34,"r":-17},{"p":"e","t":34,"r":-3},{"p":"e","t":34,"r":11},{"p":"e","t":34,"r":20},
{"p":"e","t":37,"r":-42},{"p":"e","t":37,"r":-28},{"p":"e","t":37,"r":-14},{"p":"e","t":37,"r":0},{"p":"e","t":37,"r":14},
{"p":"e","t":39,"r":-48},{"p":"e","t":39,"r":-34},{"p":"e","t":39,"r":-20},{"p":"e","t":39,"r":-6},{"p":"e","t":39,"r":8},
{"p":"e","t":40,"r":-100},{"p":"e","t":40,"r":-86},
{"p":"e","t":42,"r":-62},{"p":"e","t":42,"r":-48},{"p":"e","t":42,"r":-34},{"p":"e","t":42,"r":-100},{"p":"e","t":42,"r":-86},
{"p":"e","t":45,"r":-62},{"p":"e","t":45,"r":-48},{"p":"e","t":45,"r":-32},{"p":"e","t":45,"r":-100},{"p":"e","t":45,"r":-86},
{"p":"e","t":48,"r":-64},{"p":"e","t":48,"r":-50},{"p":"e","t":48,"r":-30},{"p":"e","t":48,"r":-100},{"p":"e","t":48,"r":-86},
{"p":"e","t":51,"r":-64},{"p":"e","t":51,"r":-50},{"p":"e","t":51,"r":-36},{"p":"e","t":51,"r":-100},{"p":"e","t":51,"r":-86},
{"p":"e","t":54,"r":-66},{"p":"e","t":54,"r":-52},{"p":"e","t":54,"r":-38},{"p":"e","t":54,"r":-100},{"p":"e","t":54,"r":-86},
{"p":"e","t":57,"r":-68},{"p":"e","t":57,"r":-54},{"p":"e","t":57,"r":-40},{"p":"e","t":57,"r":-100},{"p":"e","t":57,"r":-86},
{"p":"e","t":60,"r":-70},{"p":"e","t":60,"r":-56},{"p":"e","t":60,"r":-42},{"p":"e","t":60,"r":-100},{"p":"e","t":60,"r":-86},{"p":"e","t":59,"r":0},{"p":"e","t":59,"r":14},{"p":"e","t":59,"r":28},{"p":"e","t":59,"r":42},{"p":"e","t":59,"r":56},{"p":"e","t":59,"r":70},
{"p":"e","t":62,"r":0},{"p":"e","t":62,"r":14},{"p":"e","t":62,"r":28},{"p":"e","t":62,"r":42},{"p":"e","t":62,"r":56},{"p":"e","t":62,"r":70},{"p":"e","t":62,"r":84},
{"p":"e","t":65,"r":10},{"p":"e","t":65,"r":25},{"p":"e","t":65,"r":40},{"p":"e","t":65,"r":55},{"p":"e","t":65,"r":70},{"p":"e","t":65,"r":85},
{"p":"e","t":68,"r":25},{"p":"e","t":68,"r":40},{"p":"e","t":68,"r":55},{"p":"e","t":68,"r":70},{"p":"e","t":68,"r":85},{"p":"e","t":68,"r":95},
{"p":"e","t":71,"r":35},{"p":"e","t":71,"r":50},{"p":"e","t":71,"r":65},{"p":"e","t":71,"r":80},{"p":"e","t":71,"r":95},{"p":"e","t":71,"r":110},
{"p":"e","t":74,"r":30},{"p":"e","t":74,"r":45},{"p":"e","t":74,"r":60},{"p":"e","t":74,"r":75},{"p":"e","t":74,"r":90},{"p":"e","t":74,"r":105},{"p":"e","t":74,"r":120},
{"p":"e","t":77,"r":40},{"p":"e","t":77,"r":55},{"p":"e","t":77,"r":70},{"p":"e","t":77,"r":85},{"p":"e","t":77,"r":100},
{"p":"e","t":80,"r":15},{"p":"e","t":80,"r":30},{"p":"e","t":80,"r":45},{"p":"e","t":80,"r":60},{"p":"e","t":80,"r":75},{"p":"e","t":80,"r":90},
{"p":"e","t":83,"r":50},{"p":"e","t":83,"r":65},{"p":"e","t":83,"r":80},{"p":"e","t":83,"r":95},{"p":"e","t":83,"r":110},
{"p":"e","t":86,"r":10},{"p":"e","t":86,"r":50},{"p":"e","t":86,"r":65},{"p":"e","t":86,"r":80},{"p":"e","t":86,"r":95},{"p":"e","t":86,"r":110},{"p":"e","t":86,"r":125},
{"p":"e","t":89,"r":55},{"p":"e","t":89,"r":70},{"p":"e","t":89,"r":85},{"p":"e","t":89,"r":100},{"p":"e","t":89,"r":115},{"p":"e","t":89,"r":130},{"p":"e","t":89,"r":145},
{"p":"e","t":92,"r":50},{"p":"e","t":92,"r":65},{"p":"e","t":92,"r":80},{"p":"e","t":92,"r":95},{"p":"e","t":92,"r":110},{"p":"e","t":92,"r":125},{"p":"e","t":92,"r":140},{"p":"e","t":92,"r":150},
{"p":"e","t":95,"r":50},{"p":"e","t":95,"r":65},{"p":"e","t":95,"r":80},{"p":"e","t":95,"r":95},{"p":"e","t":95,"r":110},{"p":"e","t":95,"r":125},{"p":"e","t":95,"r":140},{"p":"e","t":95,"r":150},
{"p":"e","t":98,"r":50},{"p":"e","t":98,"r":65},{"p":"e","t":98,"r":80},{"p":"e","t":98,"r":95},{"p":"e","t":98,"r":110},{"p":"e","t":98,"r":125},{"p":"e","t":98,"r":140},
{"p":"e","t":101,"r":45},{"p":"e","t":101,"r":60},{"p":"e","t":101,"r":75},{"p":"e","t":101,"r":90},{"p":"e","t":101,"r":105},{"p":"e","t":101,"r":120},
{"p":"e","t":104,"r":40},{"p":"e","t":104,"r":54},{"p":"e","t":104,"r":68},{"p":"e","t":104,"r":82},
{"p":"e","t":107,"r":30},{"p":"e","t":107,"r":44},{"p":"e","t":107,"r":58},
{"p":"e","t":110,"r":22},{"p":"e","t":110,"r":36},{"p":"e","t":110,"r":50},
{"p":"e","t":113,"r":16},{"p":"e","t":113,"r":28},{"p":"e","t":113,"r":40},
{"p":"e","t":116,"r":12},{"p":"e","t":116,"r":24},{"p":"e","t":116,"r":32},
{"p":"e","t":119,"r":8},{"p":"e","t":119,"r":20},
{"p":"e","t":122,"r":5},{"p":"e","t":122,"r":17},
{"p":"e","t":125,"r":3},{"p":"e","t":125,"r":15},
{"p":"e","t":128,"r":1},{"p":"e","t":128,"r":13},
{"p":"e","t":131,"r":0},{"p":"e","t":131,"r":12},
{"p":"e","t":134,"r":-1},{"p":"e","t":134,"r":11},
{"p":"e","t":137,"r":-2},{"p":"e","t":137,"r":10},
{"p":"e","t":140,"r":-3},{"p":"e","t":140,"r":9},
{"p":"e","t":143,"r":-4},{"p":"e","t":143,"r":8},
{"p":"e","t":146,"r":-5},{"p":"e","t":146,"r":7},
{"p":"e","t":149,"r":-6},{"p":"e","t":149,"r":6},
{"p":"e","t":152,"r":-6},{"p":"e","t":152,"r":6},
{"p":"e","t":155,"r":-7},{"p":"e","t":155,"r":5},
{"p":"e","t":158,"r":-7},{"p":"e","t":158,"r":5},
{"p":"e","t":161,"r":-8},{"p":"e","t":161,"r":4},
{"p":"e","t":164,"r":-9},{"p":"e","t":164,"r":3},
{"p":"e","t":167,"r":-10},{"p":"e","t":167,"r":2},
{"p":"e","t":170,"r":-12},{"p":"e","t":170,"r":0},
{"p":"e","t":173,"r":-16},{"p":"e","t":173,"r":-3},
{"p":"e","t":176,"r":-20},{"p":"e","t":176,"r":-6},
{"p":"e","t":179,"r":-23},{"p":"e","t":179,"r":-8},
{"p":"e","t":182,"r":-26},{"p":"e","t":182,"r":-10},
{"p":"e","t":185,"r":-29},{"p":"e","t":185,"r":-18},{"p":"e","t":185,"r":-7},
{"p":"e","t":188,"r":-32},{"p":"e","t":188,"r":-20},{"p":"e","t":188,"r":-8},
{"p":"e","t":191,"r":-34},{"p":"e","t":191,"r":-22},{"p":"e","t":191,"r":-9},
{"p":"e","t":194,"r":-36},{"p":"e","t":194,"r":-24},{"p":"e","t":194,"r":-10},
{"p":"e","t":197,"r":-38},{"p":"e","t":197,"r":-25},{"p":"e","t":197,"r":-11},
{"p":"e","t":200,"r":-39},{"p":"e","t":200,"r":-26},{"p":"e","t":200,"r":-12},
{"p":"e","t":203,"r":-41},{"p":"e","t":203,"r":-27},{"p":"e","t":203,"r":-13},
{"p":"e","t":206,"r":-42},{"p":"e","t":206,"r":-28},{"p":"e","t":206,"r":-13},
{"p":"e","t":209,"r":-43},{"p":"e","t":209,"r":-29},{"p":"e","t":209,"r":-14},
{"p":"e","t":212,"r":-44},{"p":"e","t":212,"r":-30},{"p":"e","t":212,"r":-14},
{"p":"e","t":215,"r":-45},{"p":"e","t":215,"r":-31},{"p":"e","t":215,"r":-15},
{"p":"e","t":218,"r":-46},{"p":"e","t":218,"r":-32},{"p":"e","t":218,"r":-15},
{"p":"e","t":221,"r":-47},{"p":"e","t":221,"r":-33},{"p":"e","t":221,"r":-16},
{"p":"e","t":224,"r":-48},{"p":"e","t":224,"r":-33},{"p":"e","t":224,"r":-16},
{"p":"e","t":227,"r":-49},{"p":"e","t":227,"r":-34},{"p":"e","t":227,"r":-17},
{"p":"e","t":230,"r":-49},{"p":"e","t":230,"r":-34},{"p":"e","t":230,"r":-17},
{"p":"e","t":233,"r":-50},{"p":"e","t":233,"r":-35},{"p":"e","t":233,"r":-18},
{"p":"e","t":236,"r":-50},{"p":"e","t":236,"r":-35},{"p":"e","t":236,"r":-18},
{"p":"e","t":239,"r":-51},{"p":"e","t":239,"r":-36},{"p":"e","t":239,"r":-19}
]
},
"columns": 3,
"bounds": "flush",
"spacing": {"row": 110, "column": 88},
"concat": [
 {"title": "melamine formaldehyde", "width": 279, "height": 277,
  "layer": [
   {"data": {"name": "pts"}, "transform": [{"filter": "datum.p == 'a'"}],
    "mark": {"type": "point", "shape": "M-1,-1L1,1M-1,1L1,-1", "filled": false, "color": "#0000ff", "strokeWidth": 3, "size": 100, "opacity": 1},
    "encoding": {
     "x": {"field": "t", "type": "quantitative", "scale": {"domain": [20, 211], "nice": false, "zero": false}, "axis": {"values": [50, 100, 150, 200], "title": null}},
     "y": {"field": "r", "type": "quantitative", "scale": {"domain": [-200, 200], "nice": false, "zero": false}, "axis": {"values": [-200, -100, 0, 100, 200], "title": "residual T (°C)"}}}},
   {"data": {"name": "lbl"}, "transform": [{"filter": "datum.p == 'a'"}],
    "mark": {"type": "text", "fontSize": 20.5, "color": "#000000", "align": "center", "baseline": "middle"},
    "encoding": {
     "x": {"field": "t", "type": "quantitative", "scale": {"domain": [20, 211], "nice": false, "zero": false}, "axis": {"orient": "top", "labels": false, "values": [50, 100, 150, 200], "title": null}},
     "y": {"field": "r", "type": "quantitative", "scale": {"domain": [-200, 200], "nice": false, "zero": false}, "axis": {"orient": "right", "labels": false, "values": [-200, -100, 0, 100, 200], "title": null}},
     "text": {"field": "txt"}}}
  ],
  "resolve": {"axis": {"x": "independent", "y": "independent"}}},
 {"title": "polyurethane 1", "width": 279, "height": 277,
  "layer": [
   {"data": {"name": "pts"}, "transform": [{"filter": "datum.p == 'b'"}],
    "mark": {"type": "point", "shape": "M-1,-1L1,1M-1,1L1,-1", "filled": false, "color": "#0000ff", "strokeWidth": 3, "size": 100, "opacity": 1},
    "encoding": {
     "x": {"field": "t", "type": "quantitative", "scale": {"domain": [0, 240], "nice": false, "zero": false}, "axis": {"values": [0, 50, 100, 150, 200], "title": null}},
     "y": {"field": "r", "type": "quantitative", "scale": {"domain": [-500, 500], "nice": false, "zero": false}, "axis": {"values": [-500, 0, 500], "title": null}}}},
   {"data": {"name": "lbl"}, "transform": [{"filter": "datum.p == 'b'"}],
    "mark": {"type": "text", "fontSize": 20.5, "color": "#000000", "align": "center", "baseline": "middle"},
    "encoding": {
     "x": {"field": "t", "type": "quantitative", "scale": {"domain": [0, 240], "nice": false, "zero": false}, "axis": {"orient": "top", "labels": false, "values": [0, 50, 100, 150, 200], "title": null}},
     "y": {"field": "r", "type": "quantitative", "scale": {"domain": [-500, 500], "nice": false, "zero": false}, "axis": {"orient": "right", "labels": false, "values": [-500, 0, 500], "title": null}},
     "text": {"field": "txt"}}}
  ],
  "resolve": {"axis": {"x": "independent", "y": "independent"}}},
 {"title": "polyurethane 2", "width": 279, "height": 277,
  "layer": [
   {"data": {"name": "pts"}, "transform": [{"filter": "datum.p == 'c'"}],
    "mark": {"type": "point", "shape": "M-1,-1L1,1M-1,1L1,-1", "filled": false, "color": "#0000ff", "strokeWidth": 3, "size": 100, "opacity": 1},
    "encoding": {
     "x": {"field": "t", "type": "quantitative", "scale": {"domain": [14.3, 241], "nice": false, "zero": false}, "axis": {"values": [50, 100, 150, 200], "title": "time (min)"}},
     "y": {"field": "r", "type": "quantitative", "scale": {"domain": [-200, 200], "nice": false, "zero": false}, "axis": {"values": [-200, -100, 0, 100, 200], "title": null}}}},
   {"data": {"name": "lbl"}, "transform": [{"filter": "datum.p == 'c'"}],
    "mark": {"type": "text", "fontSize": 20.5, "color": "#000000", "align": "center", "baseline": "middle"},
    "encoding": {
     "x": {"field": "t", "type": "quantitative", "scale": {"domain": [14.3, 241], "nice": false, "zero": false}, "axis": {"orient": "top", "labels": false, "values": [50, 100, 150, 200], "title": null}},
     "y": {"field": "r", "type": "quantitative", "scale": {"domain": [-200, 200], "nice": false, "zero": false}, "axis": {"orient": "right", "labels": false, "values": [-200, -100, 0, 100, 200], "title": null}},
     "text": {"field": "txt"}}}
  ],
  "resolve": {"axis": {"x": "independent", "y": "independent"}}},
 {"title": "polyurethane 3", "width": 279, "height": 277,
  "layer": [
   {"data": {"name": "pts"}, "transform": [{"filter": "datum.p == 'd'"}],
    "mark": {"type": "point", "shape": "M-1,-1L1,1M-1,1L1,-1", "filled": false, "color": "#0000ff", "strokeWidth": 3, "size": 100, "opacity": 1},
    "encoding": {
     "x": {"field": "t", "type": "quantitative", "scale": {"domain": [19.4, 240.3], "nice": false, "zero": false}, "axis": {"values": [50, 100, 150, 200], "title": "time (min)"}},
     "y": {"field": "r", "type": "quantitative", "scale": {"domain": [-200, 200], "nice": false, "zero": false}, "axis": {"values": [-200, -100, 0, 100, 200], "title": "residual T (°C)"}}}},
   {"data": {"name": "lbl"}, "transform": [{"filter": "datum.p == 'd'"}],
    "mark": {"type": "text", "fontSize": 20.5, "color": "#000000", "align": "center", "baseline": "middle"},
    "encoding": {
     "x": {"field": "t", "type": "quantitative", "scale": {"domain": [19.4, 240.3], "nice": false, "zero": false}, "axis": {"orient": "top", "labels": false, "values": [50, 100, 150, 200], "title": null}},
     "y": {"field": "r", "type": "quantitative", "scale": {"domain": [-200, 200], "nice": false, "zero": false}, "axis": {"orient": "right", "labels": false, "values": [-200, -100, 0, 100, 200], "title": null}},
     "text": {"field": "txt"}}}
  ],
  "resolve": {"axis": {"x": "independent", "y": "independent"}}},
 {"title": "veneer mass timber", "width": 279, "height": 277,
  "layer": [
   {"data": {"name": "pts"}, "transform": [{"filter": "datum.p == 'e'"}],
    "mark": {"type": "point", "shape": "M-1,-1L1,1M-1,1L1,-1", "filled": false, "color": "#0000ff", "strokeWidth": 3, "size": 100, "opacity": 1},
    "encoding": {
     "x": {"field": "t", "type": "quantitative", "scale": {"domain": [20.3, 240.3], "nice": false, "zero": false}, "axis": {"values": [50, 100, 150, 200], "title": "time (min)"}},
     "y": {"field": "r", "type": "quantitative", "scale": {"domain": [-200, 200], "nice": false, "zero": false}, "axis": {"values": [-200, -100, 0, 100, 200], "title": null}}}},
   {"data": {"name": "lbl"}, "transform": [{"filter": "datum.p == 'e'"}],
    "mark": {"type": "text", "fontSize": 20.5, "color": "#000000", "align": "center", "baseline": "middle"},
    "encoding": {
     "x": {"field": "t", "type": "quantitative", "scale": {"domain": [20.3, 240.3], "nice": false, "zero": false}, "axis": {"orient": "top", "labels": false, "values": [50, 100, 150, 200], "title": null}},
     "y": {"field": "r", "type": "quantitative", "scale": {"domain": [-200, 200], "nice": false, "zero": false}, "axis": {"orient": "right", "labels": false, "values": [-200, -100, 0, 100, 200], "title": null}},
     "text": {"field": "txt"}}}
  ],
  "resolve": {"axis": {"x": "independent", "y": "independent"}}}
]
}
